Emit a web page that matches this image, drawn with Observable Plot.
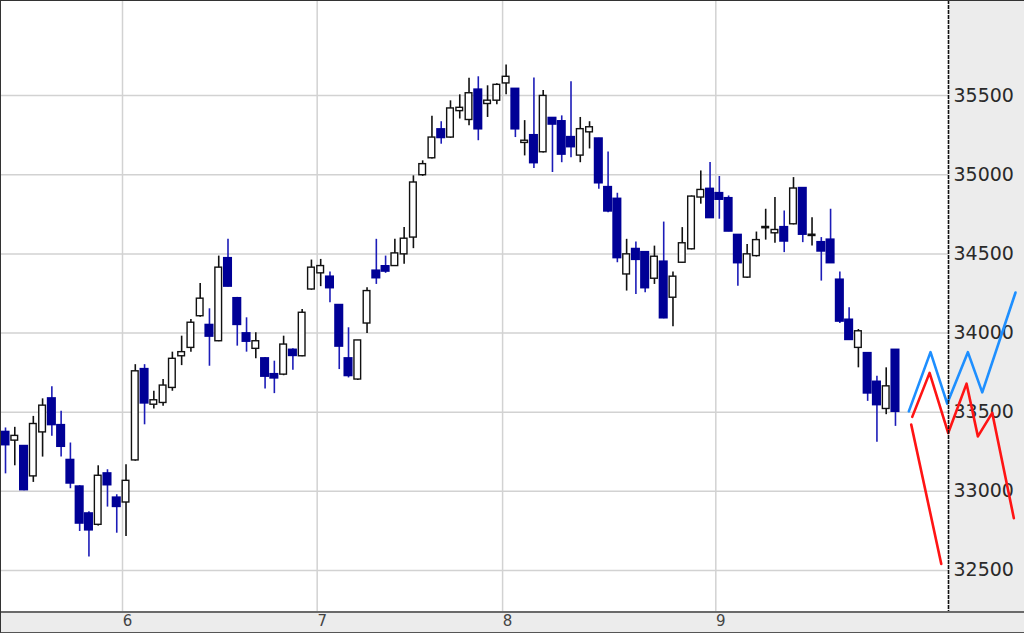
<!DOCTYPE html>
<html>
<head>
<meta charset="utf-8">
<script src="https://cdn.jsdelivr.net/npm/d3@7"></script>
<script src="https://cdn.jsdelivr.net/npm/@observablehq/plot@0.6"></script>
<style>
  html, body { margin: 0; padding: 0; background: #ffffff; }
  #wrap { position: relative; width: 1024px; height: 633px; background: #ececec; overflow: hidden; }
  #wrap svg { position: absolute; left: 0; top: 0; background: transparent; }
  #sep { position: absolute; left: 0; top: 611px; width: 1024px; height: 2px; background: #6a6a6a; }
  #border { position: absolute; left: 0; top: 0; width: 1024px; height: 633px; box-sizing: border-box;
            border-top: 1px solid #333; border-left: 1px solid #333; border-bottom: 1px solid #555; pointer-events: none; }
</style>
</head>
<body>
<div id="wrap"><div id="sep"></div><div id="border"></div></div>
<script>
// Candle data (0-based candle index order)
const opens  = [33372,33320,33283,33094,33372,33584,33415,33195,33027,32857,32788,33110,32957,32929,33195,33769,33547,33558,33653,33853,33906,34106,34048,33948,34470,34217,33995,33900,33837,33737,33737,33891,33853,34275,34377,34353,34174,33837,33706,34060,34391,34419,34423,34497,34603,34997,35104,35284,35235,35402,35346,35535,35447,35468,35577,35540,35201,35247,35142,35356,35335,35235,35121,35268,35226,34919,34845,34370,34528,34508,34343,34448,34223,34444,34529,34856,34908,34881,34849,34617,34350,34486,34662,34630,34666,34687,34913,34613,34571,34587,34334,34081,33906,33870,33689,33520,33891];
const highs  = [33400,33404,33290,33473,33584,33660,33505,33305,33035,32870,33161,33136,32978,33168,33800,33800,33632,33706,33879,33980,34086,34313,34153,34486,34592,34225,34096,34001,33845,33822,33980,33900,34149,34461,34465,34385,34180,34033,33953,34286,34592,34486,34592,34666,34993,35088,35370,35335,35467,35505,35610,35619,35562,35575,35693,35545,35342,35611,35533,35360,35372,35588,35362,35335,35230,35144,34883,34592,34575,34515,34549,34701,34385,34666,34866,35024,35077,34989,34866,34620,34560,34638,34782,34856,34771,34982,34918,34729,34603,34782,34385,34160,34022,33875,33727,33780,33895];
const lows   = [33110,33161,33003,33056,33216,33347,33216,33016,32746,32585,32780,32900,32735,32714,33190,33420,33520,33537,33632,33794,33879,34100,33790,33945,34290,33917,33879,33837,33647,33617,33730,33765,33850,34270,34293,34191,33769,33716,33700,33997,34307,34377,34420,34434,34533,34990,35100,35193,35230,35352,35309,35215,35362,35442,35505,35235,35119,35040,35138,35014,35076,35108,35076,35163,34909,34760,34444,34265,34244,34254,34307,34090,34039,34440,34525,34814,34725,34719,34640,34296,34345,34480,34587,34567,34508,34683,34571,34550,34328,34440,34060,33955,33780,33568,33309,33484,33410];
const closes = [33294,33350,33010,33425,33541,33421,33284,33052,32799,32756,33098,33041,32904,33066,33758,33558,33575,33668,33837,33879,34065,34217,33980,34413,34296,34054,33948,33948,33727,33716,33927,33858,34128,34413,34423,34286,33917,33731,33953,34265,34349,34391,34503,34596,34951,35067,35235,35235,35419,35423,35515,35290,35468,35568,35619,35290,35215,35076,35498,35320,35130,35177,35288,35300,34949,34771,34476,34497,34465,34286,34482,34096,34356,34567,34862,34904,34729,34845,34644,34444,34497,34587,34670,34651,34581,34913,34624,34621,34518,34444,34075,33959,34011,33621,33547,33663,33505];

// Day separators: candle index where each day starts, and its label
const dayStartIdx = [13, 34, 54, 77];
const dayLabels   = ["6", "7", "8", "9"];

// Price ticks
const priceTicks = [32500, 33000, 33500, 34000, 34500, 35000, 35500];

// Projection lines (x in candle-index units, y in price)
const blueX  = [97.44, 99.78, 101.58, 103.81, 105.36, 108.95];
const blueY  = [33505, 33879, 33554, 33879, 33625, 34256];
const red1X  = [97.81, 99.68, 101.69, 103.67, 104.89, 106.44, 108.77];
const red1Y  = [33470, 33748, 33368, 33680, 33347, 33495, 32830];
const red2X  = [97.70, 100.94];
const red2Y  = [33421, 32541];

// Scale extents
const xDomain = [-0.54, 101.72];
const yDomain = [32234, 36101];

const candles = opens.map((o, i) => ({i, open: o, high: highs[i], low: lows[i], close: closes[i], up: closes[i] >= o}));
const ups = candles.filter(d => d.up);
const downs = candles.filter(d => !d.up);
const dayPos = dayStartIdx.map(k => k - 0.38);
const line = (xs, ys) => xs.map((x, j) => ({x, y: ys[j]}));

const NAVY = "#000096";
const chart = Plot.plot({
  width: 1024,
  height: 633,
  marginLeft: 0,
  marginRight: 76,
  marginTop: 0,
  marginBottom: 21,
  style: {background: "transparent", fontFamily: "DejaVu Sans, sans-serif"},
  x: {type: "linear", domain: xDomain},
  y: {type: "linear", domain: yDomain},
  marks: [
    Plot.frame({fill: "white", stroke: null}),
    Plot.gridY(priceTicks, {stroke: "#d2d2d2", strokeOpacity: 1, strokeWidth: 1.5}),
    Plot.gridX(dayPos, {stroke: "#d2d2d2", strokeOpacity: 1, strokeWidth: 1.5}),
    Plot.axisY(priceTicks, {anchor: "right", tickSize: 0, tickPadding: 5, fontSize: 19, fill: "#2a2a2a", textAnchor: "start", tickFormat: d => String(d)}),
    Plot.axisX(dayPos, {anchor: "bottom", tickSize: 0, tickPadding: 3, fontSize: 15, fill: "#444", dx: 5, tickFormat: (d) => dayLabels[dayPos.indexOf(d)]}),
    Plot.ruleX(downs, {x: "i", y1: "low", y2: "high", stroke: "#1c1cb8", strokeWidth: 1.6}),
    Plot.ruleX(ups, {x: "i", y1: "low", y2: "high", stroke: "#111", strokeWidth: 1.6}),
    Plot.rect(downs, {x1: d => d.i - 0.36, x2: d => d.i + 0.36, y1: "open", y2: "close", fill: NAVY, stroke: NAVY, strokeWidth: 2.4}),
    Plot.rect(ups, {x1: d => d.i - 0.36, x2: d => d.i + 0.36, y1: "open", y2: "close", fill: "white", stroke: "#111", strokeWidth: 1.4}),
    Plot.line(line(blueX, blueY), {x: "x", y: "y", stroke: "#1e8fff", strokeWidth: 2.6}),
    Plot.line(line(red1X, red1Y), {x: "x", y: "y", stroke: "#ff1414", strokeWidth: 2.6}),
    Plot.line(line(red2X, red2Y), {x: "x", y: "y", stroke: "#ff1414", strokeWidth: 2.6}),
    Plot.ruleX([xDomain[1]], {stroke: "#111", strokeWidth: 1.6, strokeDasharray: "4,1"})
  ]
});
document.getElementById("wrap").insertBefore(chart, document.getElementById("sep"));
</script>
</body>
</html>
